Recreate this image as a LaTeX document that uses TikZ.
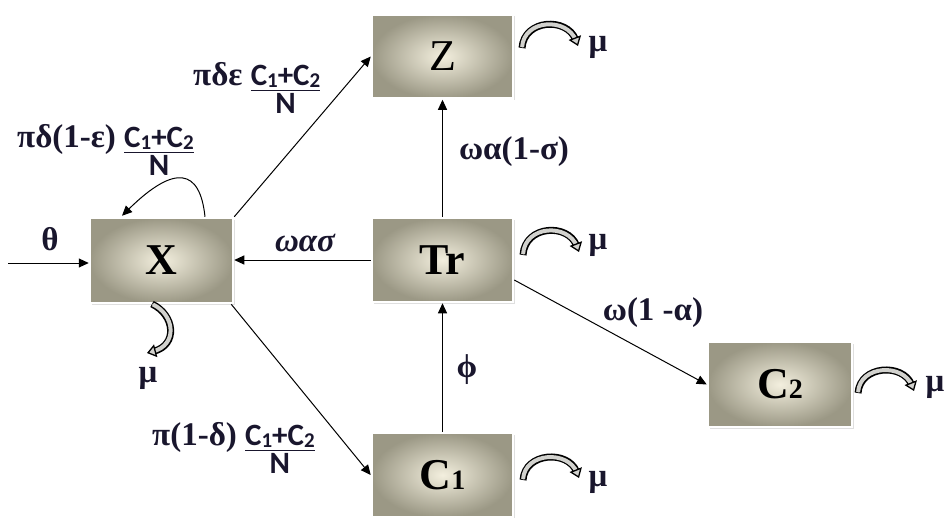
\documentclass[tikz,border=0pt]{standalone}
\usepackage{fontspec}
\setmainfont{Liberation Serif}
\newfontfamily\labfont{Carlito}
\usetikzlibrary{arrows.meta,shadows,calc}
\definecolor{labcol}{RGB}{25,22,45}
\definecolor{boxin}{RGB}{243,239,222}
\definecolor{boxout}{RGB}{155,152,133}
\definecolor{hollow}{RGB}{210,210,206}
\newcommand{\sbs}[1]{\raisebox{-2pt}{\fontsize{21}{21}\selectfont #1}}
\newcommand{\frc}{{\labfont\bfseries\fontsize{31}{36}\selectfont\setbox0\hbox{C\sbs{1}+C\sbs{2}}\vtop{\hbox{\copy0}\kern2.5pt\hrule height1.8pt width\wd0\kern2pt\hbox to\wd0{\hfil N\hfil}}}}
\newcommand{\hollowarrow}[1]{\draw[hout] #1; \draw[hin] #1; \draw[htip] #1;}
\tikzset{
  box/.style={rectangle, inner sep=0pt, minimum width=141pt, minimum height=84pt,
    draw=white, line width=2.5pt, inner color=boxin, outer color=boxout,
    drop shadow={shadow xshift=1.5pt,shadow yshift=-1.5pt,opacity=0.25},
    font=\fontsize{44}{44}\selectfont},
  conn/.style={draw=black, line width=1pt, -{Triangle[length=10pt,width=9pt]}},
  lab/.style={text=labcol, font=\fontsize{33}{38}\selectfont\bfseries, inner sep=0pt},
  hout/.style={line width=7pt, draw=black, shorten >=7pt},
  hin/.style={line width=4pt, draw=hollow, shorten >=6pt, shorten <=1pt},
  htip/.style={line width=0.5pt, draw=hollow, -{Triangle[length=9pt,width=13pt,color=black,fill=hollow,line width=1.3pt]}}
}
\begin{document}
\begin{tikzpicture}[x=1pt,y=-1pt]
\useasboundingbox (0,0) rectangle (947,517);
% boxes
\node[box] (Z)  at (442.5,56.5) {Z};
\node[box, minimum width=143pt, minimum height=85pt] (X) at (161.5,260.5) {\bfseries X};
\node[box] (Tr) at (442.5,260) {\bfseries Tr};
\node[box] (C1) at (442.5,475) {\bfseries C{\fontsize{28}{28}\selectfont 1}};
\node[box, minimum width=144pt, minimum height=85pt] (C2) at (780,384.5) {\bfseries C{\fontsize{28}{28}\selectfont 2}};
% connectors
\coordinate (in) at (8,263);
\draw[conn] (in) -- (in -| X.west);
\draw[conn] (Tr.west) -- (Tr.west -| X.east);
\draw[conn] (Tr.north) -- (Z.south);
\draw[conn] (C1.north) -- (Tr.south);
\draw[conn] ([yshift=-20pt]Tr.east) -- (C2.west);
\draw[conn] (X.north east) -- (Z.west);
\draw[conn] ([xshift=-3pt]X.south east) -- (C1.west);
\draw[conn] ($(X.north)+(43.5,0)$) .. controls +(-5,-48) and +(53,-52) .. ($(X.north)+(-39.5,-1)$);
% labels
\node[lab] (lth) at (50,239) {θ};
\node[lab] (lwas) at (305,243) {\itshape ωασ};
\node[lab] (lwa) at (514,152) {ωα(1-σ)};
\node[lab] (lphi) at (467,370) {ϕ};
\node[lab] (lw) at (653,313) {ω(1 -α)};
\node[lab, anchor=base west] (lz) at (193,85) {πδε \frc};
\node[lab, anchor=base west] (ll) at (17,147) {πδ(1-ε) \frc};
\node[lab, anchor=base west] (lc) at (152,445) {π(1-δ) \frc};
\node[lab] (m1) at (598,47) {μ};
\node[lab] (m2) at (598,245) {μ};
\node[lab] (m3) at (598,482) {μ};
\node[lab] (m4) at (935,387) {μ};
\node[lab] (m5) at (148,378) {μ};
% hollow mu arrows
\hollowarrow{(522,48) .. controls (524,19) and (567,17) .. (578,46)}
\hollowarrow{(523,255) .. controls (525,225) and (568,223) .. (579,252)}
\hollowarrow{(523,480) .. controls (525,452) and (568,450) .. (579,478)}
\hollowarrow{(858,393) .. controls (860,365) and (903,363) .. (914,391)}
\hollowarrow{(152,304) .. controls (175,315) and (178,345) .. (147,353)}
\end{tikzpicture}
\end{document}
